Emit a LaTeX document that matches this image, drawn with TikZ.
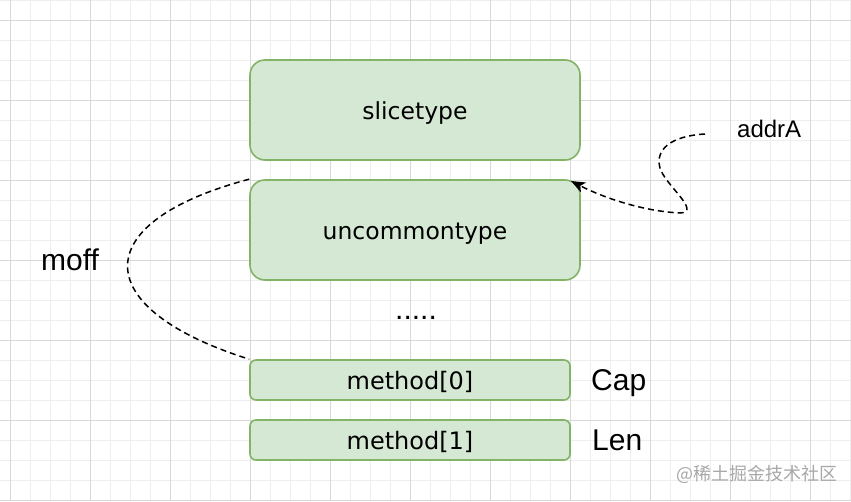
\documentclass[tikz,border=0pt]{standalone}
\usepackage{fontspec}
\setmainfont{Liberation Sans}
\newfontfamily\boxfont{DejaVu Sans}
\newfontfamily\cjkfont{Noto Sans CJK SC}
\usetikzlibrary{arrows.meta}
\definecolor{boxfill}{HTML}{D5E8D4}
\definecolor{boxline}{HTML}{82B366}
\definecolor{gridminor}{HTML}{EEEEEE}
\definecolor{gridmajor}{HTML}{D8D8D8}
\definecolor{wmgray}{HTML}{A8A8A8}
\newcommand{\lowered}[2]{\raisebox{-#1}[\height][\depth]{#2}}
\tikzset{
  bigbox/.style={draw=boxline, fill=boxfill, line width=1.6pt, rounded corners=15pt,
    minimum width=330pt, minimum height=100pt, inner sep=0pt,
    font=\boxfont\fontsize{23.5}{28}\selectfont},
  smallbox/.style={draw=boxline, fill=boxfill, line width=1.6pt, rounded corners=6pt,
    minimum width=320pt, minimum height=40pt, inner sep=0pt,
    font=\boxfont\fontsize{24}{28}\selectfont},
  bigtext/.style={font=\fontsize{30}{36}\selectfont, anchor=base west, inner sep=0pt},
  dashline/.style={black, line width=1.5pt, dash pattern=on 6pt off 4pt},
}
\begin{document}
\begin{tikzpicture}[x=1pt,y=-1pt]
\useasboundingbox (0,0) rectangle (851,501);
\fill[white] (0,0) rectangle (851,501);
% grid
\foreach \x in {10,30,...,850} \draw[gridminor, line width=0.9pt] (\x,0) -- (\x,501);
\foreach \y in {0,20,...,500} \draw[gridminor, line width=0.9pt] (0,\y) -- (851,\y);
\foreach \x in {10,90,...,850} \draw[gridmajor, line width=0.9pt] (\x,0) -- (\x,501);
\foreach \y in {20,100,...,500} \draw[gridmajor, line width=0.9pt] (0,\y) -- (851,\y);

% boxes
\node[bigbox] (slice) at (415,110) {\lowered{3.5pt}{slicetype}};
\node[bigbox] (uncommon) at (415,230) {\lowered{3.5pt}{uncommontype}};
\node[smallbox] (m0) at (410,380) {\lowered{2pt}{method[0]}};
\node[smallbox] (m1) at (410,440) {\lowered{2pt}{method[1]}};

% labels
\node[font=\fontsize{30}{36}\selectfont, anchor=base, inner sep=0pt] (dots) at (416,319) {.....};
\node[bigtext] (cap) at (591,390) {Cap};
\node[bigtext] (len) at (592,450) {Len};
\node[bigtext] (moff) at (41,270) {moff};
\node[font=\fontsize{24}{28}\selectfont, anchor=base west, inner sep=0pt] (addr) at (737,137) {addrA};
\node[anchor=west, text=wmgray, font=\cjkfont\fontsize{18}{21}\selectfont, inner sep=0pt] (wm) at (676,474) {@稀土掘金技术社区};

% connectors
\coordinate (astart) at (705,134);
\coordinate (tip) at (571,181);
\draw[dashline] (uncommon.north west) .. controls (87,222) and (87,308) .. (m0.north west);
\draw[dashline, -{Stealth[length=14pt, width=11pt, inset=3.5pt]}]
  (astart) .. controls (670,136) and (655,150) .. (660,168)
  .. controls (665,185) and (702,212) .. (680,213)
  .. controls (640,211) and (600,196) .. (tip);
\end{tikzpicture}
\end{document}
